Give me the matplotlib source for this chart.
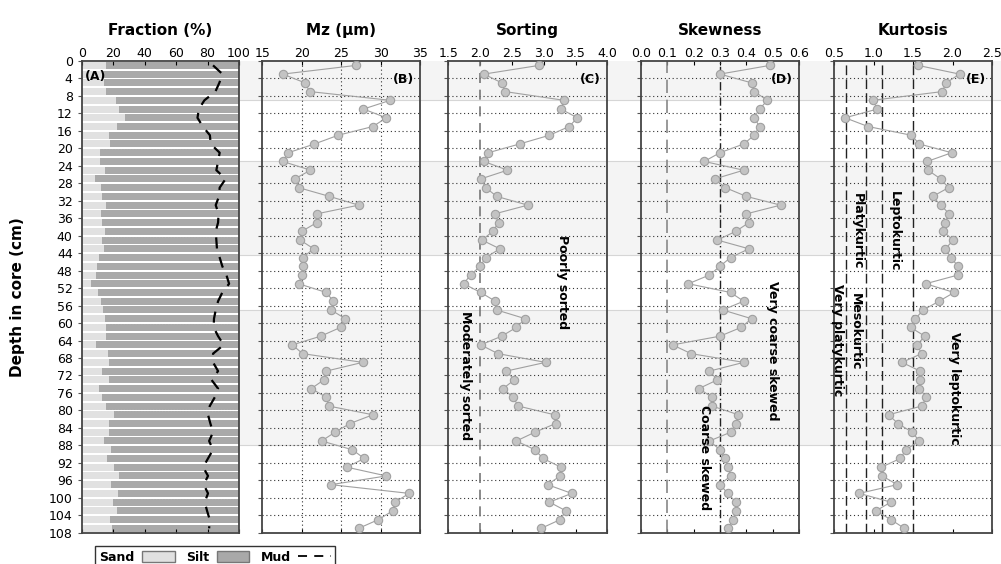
import matplotlib.pyplot as plt
from matplotlib.patches import Patch
from matplotlib.lines import Line2D

# profundidade das amostras (cm), uma a cada 2 cm
depth = list(range(1, 108, 2))

sand = [15.4, 13.0, 14.0, 15.4, 22.0, 24.0, 27.5, 22.6, 17.5, 18.0,
        11.6, 11.6, 14.8, 8.5, 12.0, 12.7, 15.2, 12.0, 13.0, 14.8,
        13.0, 14.0, 11.0, 9.5, 8.9, 5.7, 10.4, 12.0, 13.3, 15.0,
        15.4, 15.4, 9.0, 16.5, 17.5, 12.7, 17.5, 11.0, 13.0, 15.4,
        20.5, 17.5, 17.5, 14.4, 18.6, 15.9, 20.7, 23.7, 18.4, 23.3,
        20.0, 22.2, 18.2, 19.0]
silt = [100 - s for s in sand]
mud = [83.5, 89.5, 87.5, 85.0, 78.0, 74.5, 73.6, 77.0, 81.5, 82.0,
       87.7, 86.7, 85.6, 91.5, 87.7, 87.3, 85.2, 87.0, 86.7, 85.2,
       85.6, 86.0, 87.7, 89.4, 92.0, 93.7, 89.4, 86.7, 85.2, 84.1,
       83.9, 86.7, 90.3, 83.5, 83.5, 86.7, 82.5, 86.7, 84.6, 81.4,
       80.3, 81.8, 83.5, 81.0, 83.5, 80.3, 77.2, 80.3, 77.6, 80.3,
       78.2, 79.7, 81.4, 81.0]
mz = [26.9, 17.6, 20.4, 21.0, 31.2, 27.8, 30.7, 29.0, 24.6, 21.6,
      18.3, 17.6, 21.1, 19.1, 19.6, 23.5, 27.2, 21.9, 21.9, 20.0,
      19.8, 21.5, 20.1, 20.1, 20.0, 19.6, 23.1, 24.0, 23.7, 25.5,
      24.9, 22.4, 18.8, 20.1, 27.7, 23.1, 22.8, 21.2, 23.1, 23.4,
      29.0, 26.1, 24.2, 22.5, 26.4, 27.9, 25.7, 30.7, 23.7, 33.6,
      31.8, 31.5, 29.7, 27.2]
sorting = [2.93, 2.06, 2.34, 2.39, 3.32, 3.27, 3.53, 3.40, 3.09, 2.62,
           2.13, 2.06, 2.43, 2.01, 2.09, 2.26, 2.75, 2.23, 2.29, 2.20,
           2.03, 2.31, 2.09, 2.00, 1.85, 1.74, 2.01, 2.24, 2.26, 2.71,
           2.57, 2.34, 2.01, 2.28, 3.03, 2.41, 2.54, 2.36, 2.52, 2.60,
           3.17, 3.19, 2.86, 2.57, 2.86, 2.99, 3.27, 3.26, 3.06, 3.44,
           3.09, 3.35, 3.26, 2.96]
skewness = [0.49, 0.30, 0.42, 0.43, 0.48, 0.45, 0.43, 0.45, 0.43, 0.39,
            0.30, 0.24, 0.39, 0.28, 0.32, 0.40, 0.53, 0.40, 0.41, 0.36,
            0.29, 0.41, 0.34, 0.30, 0.26, 0.18, 0.34, 0.39, 0.31, 0.42,
            0.38, 0.30, 0.12, 0.19, 0.39, 0.26, 0.29, 0.22, 0.27, 0.27,
            0.37, 0.36, 0.34, 0.26, 0.30, 0.32, 0.33, 0.34, 0.30, 0.33,
            0.36, 0.36, 0.35, 0.33]
kurtosis = [1.56, 2.09, 1.92, 1.87, 0.99, 1.05, 0.64, 0.93, 1.48, 1.58,
            1.99, 1.68, 1.69, 1.85, 1.95, 1.75, 1.85, 1.96, 1.90, 1.88,
            2.01, 1.91, 1.98, 2.07, 2.07, 1.66, 2.02, 1.83, 1.63, 1.53,
            1.47, 1.65, 1.55, 1.61, 1.36, 1.59, 1.59, 1.58, 1.67, 1.61,
            1.19, 1.31, 1.49, 1.58, 1.41, 1.34, 1.10, 1.11, 1.30, 0.82,
            1.22, 1.03, 1.22, 1.39]

# faixas cinzentas ao fundo (cm)
faixas = [(0, 9), (23, 44.5), (57, 88)]

W, H = 1001, 564
fig = plt.figure(figsize=(W / 100, H / 100), dpi=100)


def caixa(x0, x1, y0=61, y1=532.7):
    return [x0 / W, 1 - y1 / H, (x1 - x0) / W, (y1 - y0) / H]


yticks = list(range(0, 109, 4))
grid_y = list(range(4, 108, 4))

# fundo com as faixas
fundo = fig.add_axes(caixa(240, 1001), zorder=-1)
fundo.set_xlim(0, 1)
fundo.set_ylim(108, 0)
fundo.axis('off')
for a, b in faixas:
    fundo.axhspan(a, b, color='#f4f4f4', lw=0)
    for lim in (a, b):
        if lim > 0:
            fundo.axhline(lim, color='#d6d6d6', lw=0.8)


def estilo(ax, xlim, xticks, fmt):
    ax.set_xlim(*xlim)
    ax.set_ylim(108, 0)
    ax.set_xticks(xticks)
    ax.set_xticklabels([fmt.format(t) for t in xticks])
    ax.xaxis.tick_top()
    ax.tick_params(axis='x', which='both', top=True, bottom=True, labelsize=9,
                   length=3, pad=1, direction='in')
    ax.set_yticks(yticks)
    ax.tick_params(axis='y', length=3, direction='out', color='#555')
    for s in ax.spines.values():
        s.set_color('#444')
        s.set_linewidth(1.3)
    ax.patch.set_visible(False)


# (A) Fraction
axA = fig.add_axes(caixa(81.7, 239))
estilo(axA, (0, 100), [0, 20, 40, 60, 80, 100], '{:d}')
axA.set_yticklabels([str(t) for t in yticks], fontsize=9)
axA.patch.set_visible(True)
axA.set_facecolor('white')
axA.barh(depth, sand, height=1.6, color='#e1e1e1', lw=0)
axA.barh(depth, silt, left=sand, height=1.6, color='#a9a9a9', lw=0)
for g in [20, 40, 60, 80, 100]:
    axA.axhline(g, color='white', lw=0.8, ls=':')
axA.plot(mud, depth, color='k', ls=(0, (5, 4)), lw=1.6)
axA.text(2, 3.5, '(A)', fontsize=9, fontweight='bold', va='center')
axA.set_title('Fraction (%)', fontsize=11, fontweight='bold', pad=19)
fig.text(18 / W, 1 - 297 / H, 'Depth in core (cm)', rotation=90, fontsize=11,
         fontweight='bold', ha='center', va='center')

paineis = [
    ('Mz (µm)', mz, (15, 35), [15, 20, 25, 30, 35], '{:d}', '(B)', 262.3, 420.3),
    ('Sorting', sorting, (1.5, 4.0), [1.5, 2.0, 2.5, 3.0, 3.5, 4.0], '{:.1f}', '(C)', 448.3, 607.3),
    ('Skewness', skewness, (0, 0.6), [0.0, 0.1, 0.2, 0.3, 0.4, 0.5, 0.6], '{:.1f}', '(D)', 641, 799),
    ('Kurtosis', kurtosis, (0.5, 2.5), [0.5, 1.0, 1.5, 2.0, 2.5], '{:.1f}', '(E)', 834, 992),
]
eixos = []
for titulo, valores, xlim, xt, fmt, letra, x0, x1 in paineis:
    ax = fig.add_axes(caixa(x0, x1))
    estilo(ax, xlim, xt, fmt)
    ax.set_yticklabels([])
    for g in grid_y:
        ax.axhline(g, color='#333', lw=0.8, ls=(0, (1, 2.5)), zorder=1)
    ax.plot(valores, depth, color='#a0a0a0', lw=0.8, marker='o', ms=6,
            mfc='#c3c3c3', mec='#a0a0a0', mew=0.8, zorder=3)
    ax.text(0.96, 0.04 * 108, letra, transform=ax.get_yaxis_transform(),
            fontsize=9, fontweight='bold', ha='right', va='center')
    ax.set_title(titulo, fontsize=11, fontweight='bold', pad=19)
    eixos.append(ax)

axB, axC, axD, axE = eixos
for v in [20, 25, 30]:
    axB.axvline(v, color='#333', lw=0.8, ls=(0, (1, 2.5)), zorder=1)

axC.axvline(2.0, color='#777', lw=1.2, ls=(0, (6, 4)), zorder=2)
axC.text(3.3, 50.5, 'Poorly sorted', rotation=270, fontsize=9, fontweight='bold',
         ha='center', va='center')
axC.text(1.77, 72, 'Moderately sorted', rotation=270, fontsize=9, fontweight='bold',
         ha='center', va='center')

axD.axvline(0.1, color='#888', lw=1.2, ls=(0, (8, 4)), zorder=2)
axD.axvline(0.3, color='#222', lw=1.0, ls=(0, (6, 2, 1, 2)), zorder=2)
axD.text(0.5, 66.4, 'Very coarse skewed', rotation=270, fontsize=9, fontweight='bold',
         ha='center', va='center')
axD.text(0.24, 90.7, 'Coarse skewed', rotation=270, fontsize=9, fontweight='bold',
         ha='center', va='center')

for v in [0.65, 0.90, 1.11, 1.50]:
    axE.axvline(v, color='#222', lw=1.0, ls=(0, (7, 3)), zorder=2)
rotulos_e = [('Very platykurtic', 0.54, 64), ('Mesokurtic', 0.77, 62),
             ('Platykurtic', 0.79, 39), ('Leptokurtic', 1.27, 39),
             ('Very leptokurtic', 2.03, 75)]
for txt, x, y in rotulos_e:
    axE.text(x, y, txt, rotation=270, fontsize=9, fontweight='bold',
             ha='center', va='center')

# legenda em baixo (cortada pela borda, como no original)
handles = [Patch(fc='#e1e1e1', ec='#777', label='Sand'),
           Patch(fc='#a9a9a9', ec='#777', label='Silt'),
           Line2D([], [], color='k', ls=(0, (5, 4)), lw=1.3, label='Mud')]
fig.legend(handles=handles, ncol=3, markerfirst=False, loc='upper left',
           bbox_to_anchor=(89 / W, 1 - 540 / H), frameon=True, fancybox=False,
           edgecolor='k', prop={'weight': 'bold', 'size': 9}, handlelength=2.6,
           handleheight=1.0, handletextpad=0.6, columnspacing=0.9,
           borderpad=0.35)

fig.savefig('out.png', dpi=100)
